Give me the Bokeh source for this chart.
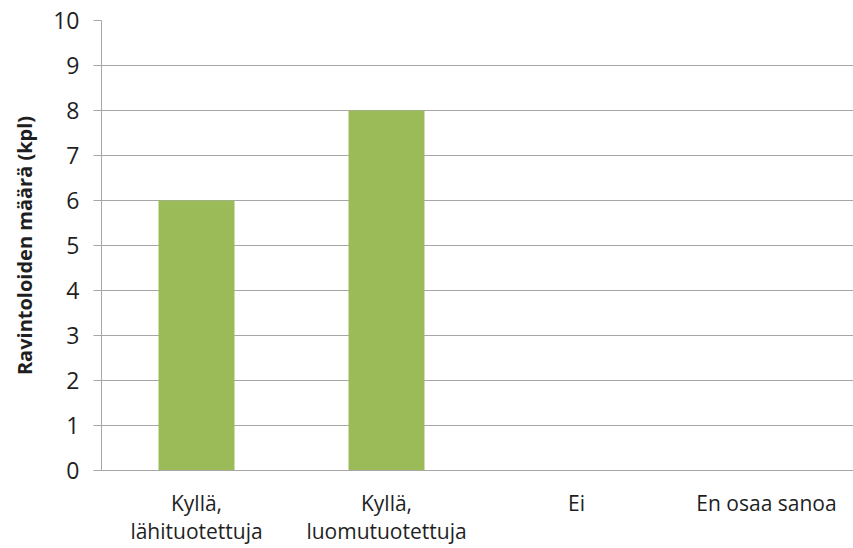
from bokeh.plotting import figure
from bokeh.models import Range1d, FixedTicker, ColumnDataSource
from bokeh.embed import file_html
from bokeh.resources import INLINE

categories = ["Kyllä,\nlähituotettuja", "Kyllä,\nluomutuotettuja", "Ei", "En osaa sanoa"]
values = [6, 8, 0, 0]
y_ticks = [0, 1, 2, 3, 4, 5, 6, 7, 8, 9, 10]
y_title = "Ravintoloiden määrä (kpl)"

xs = [i + 0.5 for i in range(len(categories))]
src = ColumnDataSource(dict(x=xs, top=values))

p = figure(width=853, height=548, output_backend="svg", toolbar_location=None,
           x_range=Range1d(0, 752 / 190), y_range=Range1d(0, 10))
p.min_border_left = 101
p.min_border_right = 0
p.min_border_top = 20
p.min_border_bottom = 78
p.outline_line_color = None
p.background_fill_color = "white"
p.border_fill_color = "white"

p.vbar(x="x", top="top", width=0.4, bottom=0, source=src,
       fill_color="#9BBB59", line_color=None)

grid_col = "#A6A6A6"
p.xgrid.grid_line_color = None
p.ygrid.grid_line_color = grid_col
p.ygrid.grid_line_width = 1

p.yaxis.ticker = FixedTicker(ticks=y_ticks)
p.yaxis.axis_line_color = grid_col
p.yaxis.major_tick_line_color = grid_col
p.yaxis.major_tick_out = 8
p.yaxis.major_tick_in = 0
p.yaxis.minor_tick_line_color = None
p.yaxis.major_label_standoff = 14
p.yaxis.major_label_text_font = "Open Sans"
p.yaxis.major_label_text_font_size = "23px"
p.yaxis.major_label_text_color = "#1f1f1f"
p.yaxis.axis_label = y_title
p.yaxis.axis_label_text_font = "Open Sans"
p.yaxis.axis_label_text_font_style = "bold"
p.yaxis.axis_label_text_font_size = "20px"
p.yaxis.axis_label_text_color = "#1f1f1f"
p.yaxis.axis_label_standoff = 12

p.xaxis.ticker = FixedTicker(ticks=xs)
p.xaxis.major_label_overrides = {x: c for x, c in zip(xs, categories)}
p.xaxis.axis_line_color = grid_col
p.xaxis.major_tick_line_color = None
p.xaxis.minor_tick_line_color = None
p.xaxis.major_label_standoff = 12
p.xaxis.major_label_text_font = "Open Sans"
p.xaxis.major_label_text_font_size = "21px"
p.xaxis.major_label_text_color = "#1f1f1f"
p.xaxis.major_label_text_line_height = 1.0

open("out.html", "w").write(file_html(p, INLINE))
